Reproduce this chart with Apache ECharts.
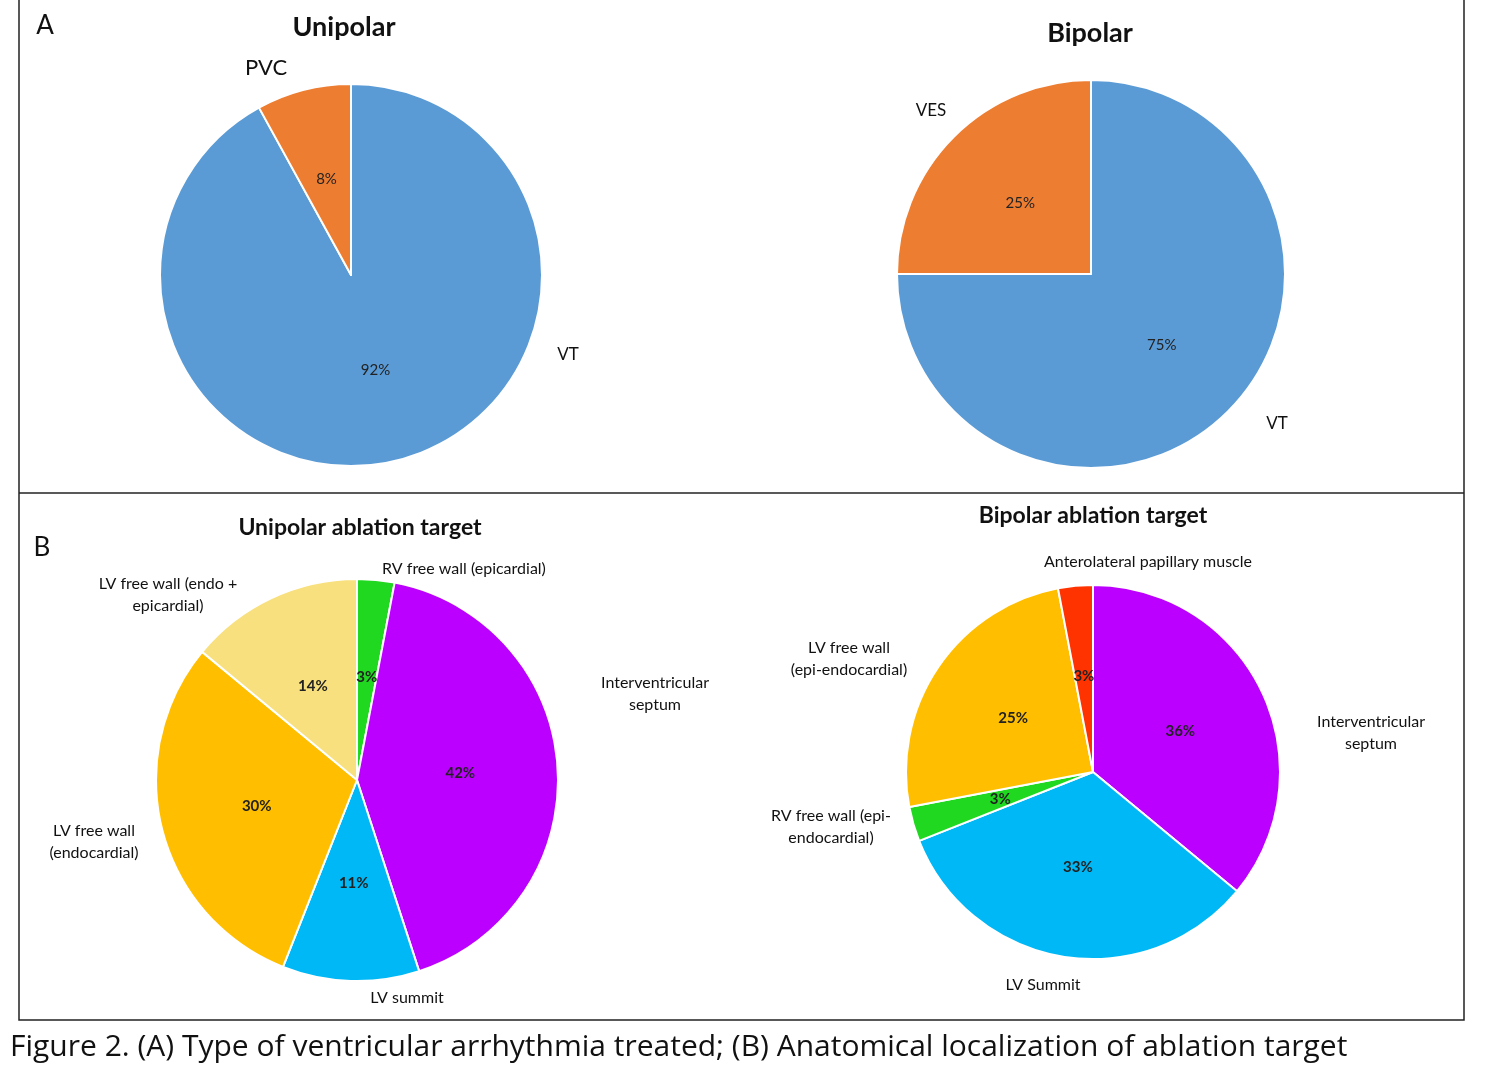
<!DOCTYPE html>
<html><head><meta charset="utf-8">
<script src="https://cdn.jsdelivr.net/npm/echarts@6/dist/echarts.min.js"></script>
<style>html,body{margin:0;padding:0;background:#fff}#c{width:1487px;height:1075px}</style>
</head><body><div id="c"></div>
<script>
const uniTypeNames = ['VT', 'PVC'];
const uniTypeValues = [92, 8];
const biTypeNames = ['VT', 'VES'];
const biTypeValues = [75, 25];
const uniTargetNames = ['RV free wall (epicardial)', 'Interventricular septum', 'LV summit', 'LV free wall (endocardial)', 'LV free wall (endo + epicardial)'];
const uniTargetValues = [3, 42, 11, 30, 14];
const uniTargetColors = ['#1FD81F', '#BB00FF', '#00B8F5', '#FFBF00', '#F8E07E'];
const biTargetNames = ['Interventricular septum', 'LV Summit', 'RV free wall (epi-endocardial)', 'LV free wall (epi-endocardial)', 'Anterolateral papillary muscle'];
const biTargetValues = [36, 33, 3, 25, 3];
const biTargetColors = ['#BB00FF', '#00B8F5', '#1FD81F', '#FFBF00', '#FF3300'];
const typeColors = ['#5B9BD5', '#ED7D31'];

const F = 'Lato, "Open Sans", sans-serif';
function mk(names, vals, colors) { return names.map((n, i) => ({ name: n, value: vals[i], itemStyle: { color: colors[i] } })); }
function pie(center, r, data, bold) {
  return {
    type: 'pie', center: center, radius: r, startAngle: 90, clockwise: true, animation: false,
    itemStyle: { borderColor: '#fff', borderWidth: 2 },
    label: { position: 'inside', formatter: '{d}%', color: '#222', fontSize: 15, fontFamily: F, fontWeight: bold ? 'bold' : 'normal' },
    labelLine: { show: false }, emphasis: { disabled: true }, data: data
  };
}
function txt(x, y, s, size, bold, align) {
  return { type: 'text', left: x, top: y, style: { text: s, font: (bold ? 'bold ' : '') + size + 'px ' + F, fill: '#111', textAlign: align || 'center', lineHeight: size * 1.4 } };
}
function ctxt(x, y, s, size, bold) {
  return { type: 'text', x: x, y: y, style: { text: s, font: (bold ? 'bold ' : '') + size + 'px ' + F, fill: '#111', textAlign: 'center', textVerticalAlign: 'middle', lineHeight: size * 1.4 } };
}
const chart = echarts.init(document.getElementById('c'));
chart.setOption({
  backgroundColor: '#fff',
  series: [
    pie([351, 275], 191, mk(uniTypeNames, uniTypeValues, typeColors), false),
    pie([1091, 274], 194, mk(biTypeNames, biTypeValues, typeColors), false),
    pie([357, 780], 201, mk(uniTargetNames, uniTargetValues, uniTargetColors), true),
    pie([1093, 772], 187, mk(biTargetNames, biTargetValues, biTargetColors), true)
  ],
  graphic: [
    { type: 'rect', shape: { x: 19, y: -2, width: 1445, height: 1022 }, style: { fill: 'none', stroke: '#222', lineWidth: 1.5 } },
    { type: 'line', shape: { x1: 19, y1: 493, x2: 1464, y2: 493 }, style: { stroke: '#222', lineWidth: 1.5 } },
    ctxt(45, 26, 'A', 26, false),
    ctxt(42, 548, 'B', 26, false),
    ctxt(344, 27, 'Unipolar', 27, true),
    ctxt(1090, 33, 'Bipolar', 27, true),
    ctxt(266, 68, 'PVC', 22, false),
    ctxt(568, 355, 'VT', 17, false),
    ctxt(931, 111, 'VES', 17, false),
    ctxt(1277, 424, 'VT', 17, false),
    ctxt(360, 528, 'Unipolar ablation target', 23, true),
    ctxt(1093, 516, 'Bipolar ablation target', 23, true),
    ctxt(168, 595, 'LV free wall (endo +\nepicardial)', 16, false),
    ctxt(464, 569, 'RV free wall (epicardial)', 16, false),
    ctxt(655, 694, 'Interventricular\nseptum', 16, false),
    ctxt(94, 842, 'LV free wall\n(endocardial)', 16, false),
    ctxt(407, 998, 'LV summit', 16, false),
    ctxt(1148, 562, 'Anterolateral papillary muscle', 16, false),
    ctxt(849, 659, 'LV free wall\n(epi-endocardial)', 16, false),
    ctxt(1371, 733, 'Interventricular\nseptum', 16, false),
    ctxt(831, 827, 'RV free wall (epi-\nendocardial)', 16, false),
    ctxt(1043, 985, 'LV Summit', 16, false),
    { type: 'text', left: 10, top: 1032, style: { text: 'Figure 2. (A) Type of ventricular arrhythmia treated; (B) Anatomical localization of ablation target', font: '30px "Open Sans", sans-serif', fill: '#111' } }
  ]
});
</script></body></html>
